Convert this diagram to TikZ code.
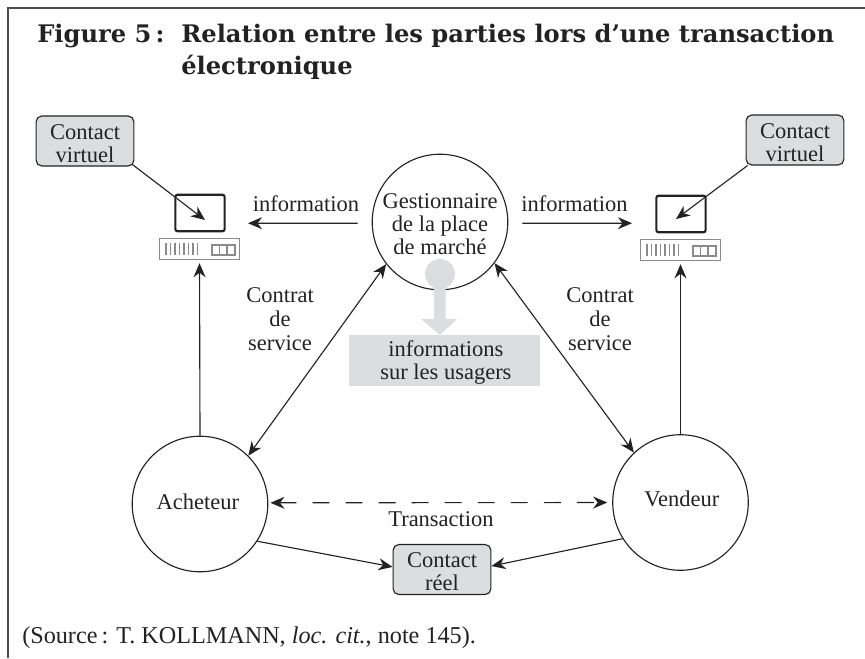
\documentclass[tikz,border=0pt]{standalone}
\usepackage{fontspec}
\setmainfont{Liberation Serif}
\newfontfamily\titlefont{DejaVu Serif}
\usetikzlibrary{arrows.meta}
\definecolor{ink}{HTML}{222222}
\definecolor{pale}{HTML}{DCDDDF}
\definecolor{panel}{HTML}{8A8A8A}
\newcommand{\lowtext}{\rule{0pt}{14pt}}
\tikzset{
  every node/.style={inner sep=0pt,text=ink,font=\fontsize{16}{16.5}\selectfont,align=center},
  flow/.style={ink,line width=0.8pt,-{Stealth[length=10pt,width=8.5pt]}},
  both/.style={ink,line width=0.8pt,{Stealth[length=10pt,width=8.5pt]}-{Stealth[length=10pt,width=8.5pt]}},
  party/.style={circle,draw=ink,line width=0.8pt,minimum size=96.4pt},
  contact/.style={rectangle,rounded corners=4pt,draw=ink,line width=0.8pt,fill=pale,minimum width=69.5pt,minimum height=35.5pt},
  screenbox/.style={rectangle,rounded corners=1.5pt,draw=ink,line width=1.5pt,minimum width=35pt,minimum height=26pt},
  basebox/.style={rectangle,draw=panel,line width=0.7pt,minimum width=57pt,minimum height=15.5pt},
  headline/.style={anchor=base west,align=left,font=\titlefont\bfseries\fontsize{17.2}{22.7}\selectfont}
}
\begin{document}
\begin{tikzpicture}[x=0.025cm,y=0.025cm]
    \useasboundingbox (0,0) rectangle (865,-658);
    % frame
    \draw [ink!80,line width=0.8pt] (8,-658) -- (8,-8) -- (865,-8);
    % title
    \node (fig) [headline] at (37,-42) {Figure 5\,:};
    \node (title) [headline] at (181,-74) {Relation entre les parties lors d’une transaction\\électronique};
    % parties
    \node (gest) [party] at (440,-222) {\lowtext Gestionnaire\\de la place\\de marché};
    \node (achat) [party,text depth=4pt] at (200,-504) {Acheteur\kern3pt};
    \node (vente) [party,text depth=5pt] at (680.5,-502.5) {\kern2pt Vendeur};
    \node (usagers) [fill=pale,minimum width=135.5pt,minimum height=36pt] at (444.5,-360.5) {\lowtext\kern2pt informations\\\kern2pt sur les usagers};
    \node (virtL) [contact] at (85,-141) {\lowtext Contact\\virtuel};
    \node (virtR) [contact] at (795,-140) {\lowtext Contact\\virtuel};
    \node (reel) [contact] at (442,-569.5) {\lowtext Contact\\réel};
    % gray arrow, over the circle
    \fill [pale] (440,-274) circle (15);
    \fill [pale] (434,-285) -- (445.5,-285) -- (445.5,-319) -- (457,-319) -- (440,-335) -- (421,-319) -- (434,-319) -- cycle;
    % computers
    \foreach \cn/\cx/\cy in {L/0/0,R/481/-1} {
      \node (scr\cn) [screenbox] at (200+\cx,-213+\cy) {};
      \node (base\cn) [basebox] at (199.5+\cx,-249+\cy) {};
      \foreach \bx in {166,170.5,...,198}
        \draw [panel,line width=0.8pt] (\bx+\cx,-243+\cy) -- (\bx+\cx,-255+\cy);
      \draw [panel,line width=0.8pt] (212+\cx,-245+\cy) rectangle (235+\cx,-255+\cy);
      \draw [panel,line width=0.8pt] (219.5+\cx,-245+\cy) -- (219.5+\cx,-255+\cy);
      \draw [panel,line width=0.8pt] (227+\cx,-245+\cy) -- (227+\cx,-255+\cy);
    }
    \coordinate (tipL) at (205,-220);
    \coordinate (tipR) at (676,-219);
    \coordinate (infoL) at (248,-223.2);
    \coordinate (infoR) at (632,-223.2);
    % connectors
    \draw [flow] (virtL.south east) ++(-2,2) -- (tipL);
    \draw [flow] (virtR.south west) ++(2,0) -- (tipR);
    \draw [flow,shorten <=10pt] (gest.181) -- (infoL);
    \draw [flow,shorten <=10pt] (gest.359) -- (infoR);
    \draw [flow,shorten >=2pt] (achat.north) -- (baseL.south);
    \draw [flow,shorten >=2pt] (vente.north) -- (baseR.south);
    \draw [both] (achat.45) -- (gest.218);
    \draw [both] (gest.323.3) -- (vente.133.2);
    \draw [both,dash pattern=on 12pt off 11.5pt,shorten <=1.5pt,shorten >=3.5pt] (achat.1) -- (vente.180);
    \draw [flow] (achat.-33) -- (reel.177);
    \draw [flow] (vente.212.4) -- (reel.4);
    % labels
    \node (lblinfoL) at (306,-204) {information};
    \node (lblinfoR) at (574.5,-204) {information};
    \node (lblcontL) at (280,-319) {Contrat\\[0.5pt]de\\[0.5pt]service};
    \node (lblcontR) at (600,-319) {Contrat\\[0.5pt]de\\[0.5pt]service};
    \node (lbltrans) at (441,-519) {Transaction};
    \node (source) [anchor=west,font=\fontsize{17.2}{18}\selectfont] at (22,-638) {(Source\,: T. KOLLMANN, \emph{loc. cit.}, note 145).};
\end{tikzpicture}
\end{document}
